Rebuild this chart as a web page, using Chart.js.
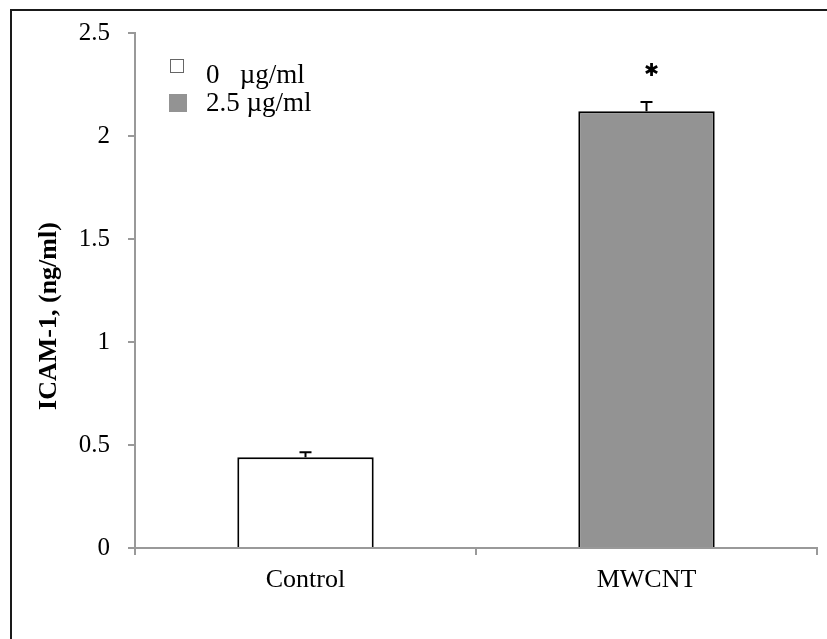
<!DOCTYPE html>
<html>
<head>
<meta charset="utf-8">
<script src="https://cdn.jsdelivr.net/npm/chart.js@4.4.0/dist/chart.umd.min.js"></script>
<style>
body{margin:0;background:#fff;}
#wrap{position:relative;width:827px;height:639px;}
#frame{position:absolute;left:10px;top:9px;right:0;bottom:0;border-left:2px solid #1a1a1a;border-top:2px solid #1a1a1a;}
</style>
</head>
<body>
<div id="wrap"><canvas id="chart" width="827" height="639"></canvas><div id="frame"></div></div>
<script>
// ICAM-1 release, control vs MWCNT
var groups = ['Control', 'MWCNT'];
var doses = ['0   µg/ml', '2.5 µg/ml'];
var means = [0.44, 2.12];
var errors = [0.025, 0.045];
var sigMark = ['', '✱'];
var yTicks = [0, 0.5, 1, 1.5, 2, 2.5];
var yTitle = 'ICAM-1, (ng/ml)';

var barColors = ['#ffffff', '#939393'];
var serif = '"Liberation Serif", "Times New Roman", serif';

var extras = {
    id: 'extras',
    afterDatasetsDraw: function (chart) {
        var ctx = chart.ctx;
        var y = chart.scales.y;
        var meta = chart.getDatasetMeta(0);
        ctx.save();
        // error bars + significance
        ctx.strokeStyle = '#000';
        ctx.lineWidth = 2;
        means.forEach(function (m, i) {
            var px = meta.data[i].x;
            var base = y.getPixelForValue(m);
            var top = y.getPixelForValue(m + errors[i]);
            ctx.beginPath();
            ctx.moveTo(px, base);
            ctx.lineTo(px, top);
            ctx.moveTo(px - 6, top);
            ctx.lineTo(px + 6, top);
            ctx.stroke();
            if (sigMark[i]) {
                ctx.fillStyle = '#000';
                ctx.font = 'bold 18px "DejaVu Sans"';
                ctx.textAlign = 'center';
                ctx.textBaseline = 'middle';
                ctx.fillText(sigMark[i], px + 5, top - 31);
            }
        });

        // legend
        ctx.font = '27px ' + serif;
        ctx.textAlign = 'left';
        ctx.textBaseline = 'middle';
        ctx.fillStyle = '#000';
        ctx.fillText(doses[0], 206, 76);
        ctx.fillText(doses[1], 206, 104);
        ctx.fillStyle = barColors[0];
        ctx.fillRect(170, 59, 13, 13);
        ctx.strokeStyle = '#666';
        ctx.lineWidth = 1;
        ctx.strokeRect(170.5, 59.5, 13, 13);
        ctx.fillStyle = barColors[1];
        ctx.fillRect(169, 94, 18, 18);

        // y axis title
        ctx.translate(49, 316);
        ctx.rotate(-Math.PI / 2);
        ctx.font = 'bold 26px ' + serif;
        ctx.textAlign = 'center';
        ctx.fillStyle = '#000';
        ctx.fillText(yTitle, 0, 0);
        ctx.restore();
    }
};

var ctx = document.getElementById('chart');
var chart = new Chart(ctx, {
    type: 'bar',
    data: {
        labels: groups,
        datasets: [{
            data: means,
            backgroundColor: barColors,
            borderColor: '#000',
            borderWidth: 2,
            barPercentage: 0.4,
            categoryPercentage: 1.0
        }]
    },
    options: {
        responsive: false,
        animation: false,
        layout: { padding: { top: 31, right: 10, left: 0, bottom: 0 } },
        plugins: {
            legend: { display: false },
            tooltip: { enabled: false }
        },
        scales: {
            y: {
                min: 0,
                max: 2.5,
                afterBuildTicks: function (scale) {
                    scale.ticks = yTicks.map(function (v) { return { value: v }; });
                },
                afterFit: function (scale) { scale.width = 135; },
                border: { color: '#999', width: 2 },
                grid: { drawOnChartArea: false, color: '#999', lineWidth: 2, tickLength: 7 },
                ticks: {
                    padding: 18,
                    color: '#000',
                    font: { family: serif, size: 25 },
                    callback: function (v) { return String(v); }
                }
            },
            x: {
                afterFit: function (scale) { scale.height = 91; },
                border: { color: '#999', width: 2 },
                grid: { drawOnChartArea: false, color: '#999', lineWidth: 2, tickLength: 7, offset: true },
                ticks: {
                    padding: 10,
                    color: '#000',
                    font: { family: serif, size: 26 }
                }
            }
        }
    },
    plugins: [extras]
});
</script>
</body>
</html>
